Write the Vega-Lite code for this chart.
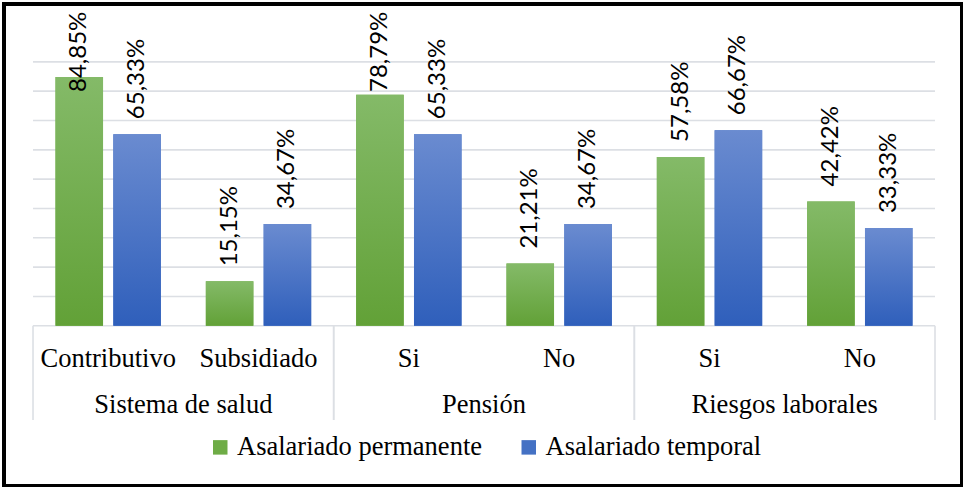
{
  "$schema": "https://vega.github.io/schema/vega-lite/v6.json",
  "width": 958,
  "height": 482,
  "autosize": {"type": "none"},
  "padding": {"left": 4, "top": 4, "right": 1, "bottom": 1},
  "background": "#ffffff",
  "datasets": {
    "valores": [
      {"grupo": "Sistema de salud", "sub": "Contributivo", "key": "Sistema de salud|Contributivo", "serie": "Asalariado permanente", "valor": 0.8485},
      {"grupo": "Sistema de salud", "sub": "Contributivo", "key": "Sistema de salud|Contributivo", "serie": "Asalariado temporal", "valor": 0.6533},
      {"grupo": "Sistema de salud", "sub": "Subsidiado", "key": "Sistema de salud|Subsidiado", "serie": "Asalariado permanente", "valor": 0.1515},
      {"grupo": "Sistema de salud", "sub": "Subsidiado", "key": "Sistema de salud|Subsidiado", "serie": "Asalariado temporal", "valor": 0.3467},
      {"grupo": "Pensión", "sub": "Si", "key": "Pensión|Si", "serie": "Asalariado permanente", "valor": 0.7879},
      {"grupo": "Pensión", "sub": "Si", "key": "Pensión|Si", "serie": "Asalariado temporal", "valor": 0.6533},
      {"grupo": "Pensión", "sub": "No", "key": "Pensión|No", "serie": "Asalariado permanente", "valor": 0.2121},
      {"grupo": "Pensión", "sub": "No", "key": "Pensión|No", "serie": "Asalariado temporal", "valor": 0.3467},
      {"grupo": "Riesgos laborales", "sub": "Si", "key": "Riesgos laborales|Si", "serie": "Asalariado permanente", "valor": 0.5758},
      {"grupo": "Riesgos laborales", "sub": "Si", "key": "Riesgos laborales|Si", "serie": "Asalariado temporal", "valor": 0.6667},
      {"grupo": "Riesgos laborales", "sub": "No", "key": "Riesgos laborales|No", "serie": "Asalariado permanente", "valor": 0.4242},
      {"grupo": "Riesgos laborales", "sub": "No", "key": "Riesgos laborales|No", "serie": "Asalariado temporal", "valor": 0.3333}
    ],
    "categorias": [
      {"key": "Sistema de salud|Contributivo", "sub": "Contributivo"},
      {"key": "Sistema de salud|Subsidiado", "sub": "Subsidiado"},
      {"key": "Pensión|Si", "sub": "Si"},
      {"key": "Pensión|No", "sub": "No"},
      {"key": "Riesgos laborales|Si", "sub": "Si"},
      {"key": "Riesgos laborales|No", "sub": "No"}
    ],
    "grupos": [
      {"grupo": "Sistema de salud", "primero": "Sistema de salud|Contributivo", "ultimo": "Sistema de salud|Subsidiado"},
      {"grupo": "Pensión", "primero": "Pensión|Si", "ultimo": "Pensión|No"},
      {"grupo": "Riesgos laborales", "primero": "Riesgos laborales|Si", "ultimo": "Riesgos laborales|No"}
    ],
    "lineas": [
      {"nivel": 0}, {"nivel": 0.1}, {"nivel": 0.2}, {"nivel": 0.3}, {"nivel": 0.4},
      {"nivel": 0.5}, {"nivel": 0.6}, {"nivel": 0.7}, {"nivel": 0.8}, {"nivel": 0.9}
    ]
  },
  "layer": [
    {
      "data": {"name": "lineas"},
      "mark": {
        "type": "rule",
        "color": "#dcdfe4",
        "strokeWidth": 1.6,
        "x": {"expr": "scale('x', 'Sistema de salud|Contributivo')"},
        "x2": {"expr": "scale('x', 'Riesgos laborales|No') + bandwidth('x')"}
      },
      "encoding": {
        "y": {"field": "nivel", "type": "quantitative", "axis": null}
      }
    },
    {
      "data": {"name": "grupos"},
      "mark": {"type": "rule", "color": "#dcdfe4", "strokeWidth": 1.6},
      "encoding": {
        "x": {"field": "primero", "type": "nominal", "bandPosition": 0, "axis": null},
        "y": {"datum": 0, "type": "quantitative", "axis": null},
        "y2": {"datum": -0.3212}
      }
    },
    {
      "data": {"name": "grupos"},
      "mark": {"type": "rule", "color": "#dcdfe4", "strokeWidth": 1.6},
      "encoding": {
        "x": {"field": "ultimo", "type": "nominal", "bandPosition": 1, "axis": null},
        "y": {"datum": 0, "type": "quantitative", "axis": null},
        "y2": {"datum": -0.3212}
      }
    },
    {
      "data": {"name": "categorias"},
      "mark": {"type": "text", "font": "Liberation Serif, Times New Roman, DejaVu Serif, serif", "fontSize": 26.5, "color": "#000000", "baseline": "alphabetic", "align": "center"},
      "encoding": {
        "x": {"field": "key", "type": "nominal", "axis": null},
        "y": {"datum": -0.1394, "type": "quantitative", "axis": null},
        "text": {"field": "sub"}
      }
    },
    {
      "data": {"name": "grupos"},
      "mark": {"type": "text", "font": "Liberation Serif, Times New Roman, DejaVu Serif, serif", "fontSize": 26.5, "color": "#000000", "baseline": "alphabetic", "align": "center"},
      "encoding": {
        "x": {"field": "primero", "type": "nominal", "bandPosition": 1, "axis": null},
        "y": {"datum": -0.2963, "type": "quantitative", "axis": null},
        "text": {"field": "grupo"}
      }
    },
    {
      "data": {"name": "valores"},
      "mark": {"type": "bar"},
      "encoding": {
        "x": {
          "field": "key", "type": "nominal", "axis": null, "sort": null,
          "scale": {
            "type": "band",
            "domain": ["Sistema de salud|Contributivo", "Sistema de salud|Subsidiado", "Pensión|Si", "Pensión|No", "Riesgos laborales|Si", "Riesgos laborales|No"],
            "paddingInner": 0, "paddingOuter": 0.1863, "align": 0.518
          }
        },
        "xOffset": {
          "field": "serie", "type": "nominal",
          "scale": {"domain": ["Asalariado permanente", "Asalariado temporal"], "paddingInner": 0.178, "paddingOuter": 0.389}
        },
        "y": {
          "field": "valor", "type": "quantitative", "axis": null, "stack": null,
          "scale": {"domain": [-0.5462, 1.0972], "nice": false, "zero": false}
        },
        "y2": {"datum": 0},
        "color": {
          "field": "serie", "type": "nominal",
          "scale": {"domain": ["Asalariado permanente", "Asalariado temporal"], "range": ["#6eac46", "#4471c4"]},
          "legend": {
            "orient": "none", "legendX": 203, "legendY": 430, "direction": "horizontal",
            "title": null, "symbolType": "square", "symbolSize": 210, "symbolStrokeWidth": 0,
            "labelFont": "Liberation Serif, Times New Roman, DejaVu Serif, serif", "labelFontSize": 26.5, "labelColor": "#000000",
            "labelOffset": 3.5, "columnPadding": 32.5, "padding": 0, "labelLimit": 400
          }
        }
      }
    },
    {
      "data": {"name": "valores"},
      "transform": [{"filter": "datum.serie === 'Asalariado permanente'"}],
      "mark": {
        "type": "bar",
        "color": {"gradient": "linear", "x1": 0, "y1": 0, "x2": 0, "y2": 1,
          "stops": [{"offset": 0, "color": "#84ba68"}, {"offset": 1, "color": "#62a137"}]}
      },
      "encoding": {
        "x": {"field": "key", "type": "nominal", "axis": null},
        "xOffset": {"field": "serie", "type": "nominal"},
        "y": {"field": "valor", "type": "quantitative", "axis": null, "stack": null},
        "y2": {"datum": 0}
      }
    },
    {
      "data": {"name": "valores"},
      "transform": [{"filter": "datum.serie === 'Asalariado temporal'"}],
      "mark": {
        "type": "bar",
        "color": {"gradient": "linear", "x1": 0, "y1": 0, "x2": 0, "y2": 1,
          "stops": [{"offset": 0, "color": "#6a8bd0"}, {"offset": 1, "color": "#2f5fbb"}]}
      },
      "encoding": {
        "x": {"field": "key", "type": "nominal", "axis": null},
        "xOffset": {"field": "serie", "type": "nominal"},
        "y": {"field": "valor", "type": "quantitative", "axis": null, "stack": null},
        "y2": {"datum": 0}
      }
    },
    {
      "data": {"name": "valores"},
      "mark": {
        "type": "text", "angle": 270, "align": "left", "baseline": "middle", "dx": 15,
        "font": "Lato, Carlito, Calibri, sans-serif", "fontSize": 24, "color": "#000000",
        "y": {"expr": "scale('y', min(datum.valor, 0.746))"}
      },
      "encoding": {
        "x": {"field": "key", "type": "nominal", "axis": null},
        "xOffset": {"field": "serie", "type": "nominal"},
        "text": {"field": "valor", "type": "quantitative", "format": ".2%"}
      }
    }
  ],
  "config": {
    "locale": {"number": {"decimal": ",", "thousands": ".", "grouping": [3], "currency": ["", " €"]}},
    "view": {"stroke": "#000000", "strokeWidth": 4},
    "axis": {"disable": true}
  }
}
